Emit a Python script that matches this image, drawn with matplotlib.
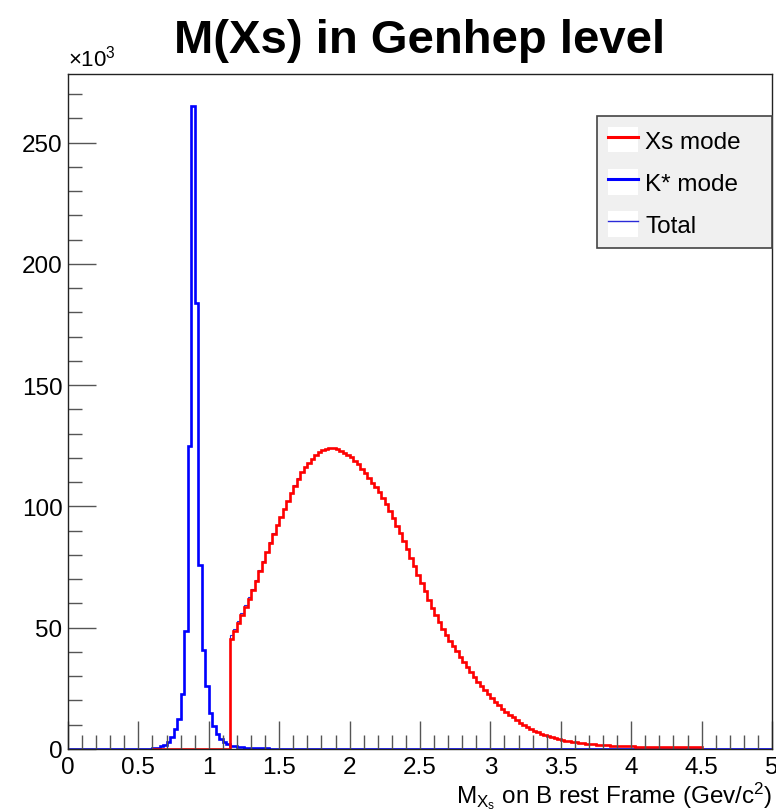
import numpy as np
import matplotlib
matplotlib.use("Agg")
import matplotlib.pyplot as plt
from matplotlib.lines import Line2D
from matplotlib.patches import Rectangle
from matplotlib.ticker import MultipleLocator, FuncFormatter

plt.rcParams["font.family"] = ["Liberation Sans", "DejaVu Sans"]
plt.rcParams["mathtext.fontset"] = "custom"
plt.rcParams["mathtext.rm"] = "Liberation Sans"
plt.rcParams["mathtext.it"] = "Liberation Sans"

# binning: 200 bins of 0.025 GeV/c^2 between 0 and 5
n_bins = 200
x_min, x_max = 0.0, 5.0

# K* mode, entries per bin (x1000), first bin starts at 0.575
kstar_first_edge = 0.575
kstar_counts = [
    0.15, 0.3, 0.6, 1.2, 1.8, 2.9, 4.9, 8.2, 12.5, 22.6,
    48.5, 125.0, 265.0, 184.0, 76.0, 41.0, 26.0, 15.0, 9.5, 6.0,
    4.0, 2.8, 1.9, 1.4, 1.1, 0.9, 0.75, 0.6, 0.5, 0.42,
    0.35, 0.3, 0.25, 0.21, 0.18, 0.15, 0.12, 0.1, 0.08, 0.06,
    0.05, 0.04, 0.03, 0.02, 0.01,
]

# Xs mode, entries per bin (x1000), first non-empty bin starts at 1.15
xs_range = (0.6, 4.5)
xs_first_edge = 1.15
xs_counts = [
    45.5, 48.5, 52.0, 55.3, 58.7, 62.0, 65.5, 69.3, 73.3, 77.2,
    81.2, 85.0, 88.8, 92.3, 95.7, 99.0, 102.3, 105.6, 108.6, 111.5,
    114.0, 116.2, 118.1, 119.7, 121.1, 122.3, 123.2, 123.8, 124.0, 123.9,
    123.5, 122.8, 122.0, 121.2, 120.2, 118.9, 117.3, 115.5, 113.6, 111.7,
    109.8, 107.8, 105.8, 103.5, 100.9, 98.1, 95.1, 92.0, 88.9, 85.6,
    82.3, 78.9, 75.4, 71.9, 68.4, 65.0, 61.6, 58.3, 55.1, 52.2,
    49.5, 47.0, 44.7, 42.4, 40.2, 38.0, 35.8, 33.7, 31.7, 29.7,
    27.8, 26.0, 24.2, 22.5, 20.9, 19.4, 18.0, 16.6, 15.3, 14.1,
    13.0, 11.9, 10.9, 10.0, 9.1, 8.3, 7.6, 6.9, 6.3, 5.8,
    5.3, 4.8, 4.4, 4.0, 3.7, 3.4, 3.1, 2.9, 2.7, 2.5,
    2.3, 2.15, 2.0, 1.9, 1.8, 1.7, 1.6, 1.5, 1.42, 1.35,
    1.28, 1.22, 1.16, 1.1, 1.05, 1.0, 0.96, 0.92, 0.88, 0.85,
    0.82, 0.8, 0.78, 0.76, 0.74, 0.72, 0.7, 0.68, 0.67, 0.66,
    0.65, 0.64, 0.63, 0.62,
]

legend_labels = ["Xs mode", "K* mode", "Total"]
title = "M(Xs) in Genhep level"
x_label = r"M$_{X_s}$ on B rest Frame (Gev/c$^{2}$)"

edges = np.linspace(x_min, x_max, n_bins + 1)
width = (x_max - x_min) / n_bins


def fill_bins(first_edge, counts):
    h = np.zeros(n_bins)
    i0 = int(round((first_edge - x_min) / width))
    h[i0:i0 + len(counts)] = counts
    return h * 1000.0


h_kstar = fill_bins(kstar_first_edge, kstar_counts)
h_xs = fill_bins(xs_first_edge, xs_counts)
h_total = h_kstar + h_xs

# Xs histogram only covers part of the axis
xs_lo = int(round((xs_range[0] - x_min) / width))
xs_hi = int(round((xs_range[1] - x_min) / width))

fig = plt.figure(figsize=(7.76, 8.12), dpi=100)
ax = fig.add_axes([68 / 776, 62 / 812, 704 / 776, 675 / 812])

ax.stairs(h_total, edges, color="#2a2ad8", lw=0.8, baseline=0)
ax.stairs(h_kstar, edges, color="#0000ff", lw=1.9, baseline=0)
ax.stairs(h_xs[xs_lo:xs_hi], edges[xs_lo:xs_hi + 1], color="#ff0000", lw=1.9, baseline=0)

ax.set_xlim(x_min, x_max)
ax.set_ylim(0, 1.05 * h_total.max())

ax.xaxis.set_major_locator(MultipleLocator(0.5))
ax.xaxis.set_minor_locator(MultipleLocator(0.1))
ax.yaxis.set_major_locator(MultipleLocator(50000))
ax.yaxis.set_minor_locator(MultipleLocator(10000))
ax.xaxis.set_major_formatter(FuncFormatter(lambda v, p: f"{v:g}"))
ax.yaxis.set_major_formatter(FuncFormatter(lambda v, p: f"{v / 1000:g}"))
ax.tick_params(which="both", direction="in", top=False, right=False,
               labelsize=17.5, color="#555555")
ax.tick_params(which="major", length=20, width=1)
ax.tick_params(which="minor", length=10, width=1)
ax.tick_params(axis="x", pad=5)
ax.tick_params(axis="y", pad=4)
for spine in ax.spines.values():
    spine.set_color("#222222")
    spine.set_linewidth(1)

ax.text(0.0, 1.005, r"$\times$10$^{3}$", transform=ax.transAxes,
        fontsize=16, ha="left", va="bottom")
ax.set_xlabel(x_label, fontsize=17.5, ha="right", x=1.0, labelpad=1)
fig.suptitle(title, fontsize=34, fontweight="bold", x=420 / 776, y=0.976)

handles = []
for color, lw in [("#ff0000", 2.2), ("#0000ff", 2.2), ("#2a2ad8", 1.0)]:
    box = Rectangle((0, 0), 1, 1, facecolor="white", edgecolor="none")
    line = Line2D([], [], color=color, lw=lw)
    handles.append((box, line))
leg = ax.legend(handles, legend_labels, loc="upper left",
                bbox_to_anchor=(0.751, 0.751, 0.249, 0.187), mode="expand",
                borderaxespad=0, fontsize=17.5,
                frameon=True, fancybox=False, shadow=False,
                handlelength=1.25, handleheight=1.25, handletextpad=0.3,
                labelspacing=0.66, borderpad=0.45)
leg.get_frame().set_facecolor("#f0f0f0")
leg.get_frame().set_edgecolor("#444444")
leg.get_frame().set_linewidth(1.2)
leg.get_frame().set_alpha(1)

fig.savefig("out.png", dpi=100)
